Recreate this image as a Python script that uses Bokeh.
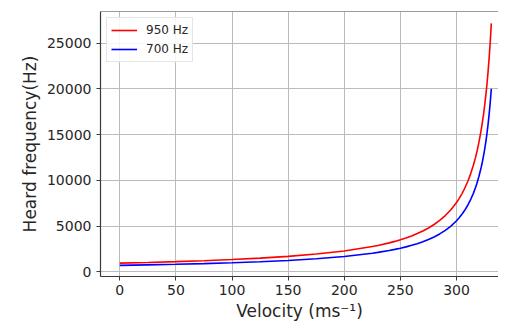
from bokeh.plotting import figure
from bokeh.models import Range1d, FixedTicker, Span, Legend, LegendItem
from bokeh.embed import file_html
from bokeh.resources import INLINE

# Velocity (m/s) and heard frequency (Hz)
velocity = [0, 25, 50, 75, 100, 125, 150, 175, 200, 225, 230, 240, 245, 250, 255, 260,
            265, 270, 275, 280, 285, 290, 295, 300, 302, 305, 307, 310, 312, 315, 317,
            318, 320, 322, 323, 324, 325, 326, 327, 328, 329, 330, 331]
heard_950 = [950, 1025, 1112, 1216, 1341, 1495, 1688, 1940, 2279, 2761, 2884, 3164, 3325,
             3504, 3703, 3926, 4178, 4464, 4792, 5172, 5618, 6148, 6789, 7578, 7948, 8575,
             9051, 9874, 10511, 11638, 12533, 13034, 14167, 15517, 16293, 17150, 18103,
             19168, 20366, 21723, 23275, 25065, 27154]
heard_700 = [700, 755, 820, 896, 988, 1101, 1244, 1429, 1679, 2035, 2125, 2331, 2450,
             2582, 2728, 2893, 3078, 3289, 3531, 3811, 4140, 4530, 5002, 5584, 5856, 6318,
             6669, 7276, 7745, 8575, 9235, 9604, 10439, 11433, 12005, 12637, 13339, 14124,
             15006, 16007, 17150, 18469, 20008]
series_labels = ["950 Hz", "700 Hz"]
x_ticks = [0, 50, 100, 150, 200, 250, 300]
y_ticks = [0, 5000, 10000, 15000, 20000, 25000]

FONT = "DejaVu Sans"
TXT = "#262626"
AX = "#3a3a3a"

p = figure(width=498, height=323, output_backend="svg", toolbar_location=None,
           x_range=Range1d(-17.2, 337.4), y_range=Range1d(-512, 28452),
           min_border_left=100, min_border_right=0, min_border_top=11, min_border_bottom=46)
p.background_fill_color = "white"
p.border_fill_color = "white"
p.outline_line_color = None

r1 = p.line(velocity, heard_950, line_color="#ff0000", line_width=1.6)
r2 = p.line(velocity, heard_700, line_color="#0000ff", line_width=1.6)

top = Span(location=28452, dimension="width", line_color=AX, line_width=1.2)
p.add_layout(top)

for ax in (p.xaxis[0], p.yaxis[0]):
    ax.axis_line_color = AX
    ax.axis_line_width = 1.2
    ax.major_tick_line_color = AX
    ax.major_tick_out = 4
    ax.major_tick_in = 0
    ax.minor_tick_line_color = None
    ax.major_label_text_font = FONT
    ax.major_label_text_font_size = "14px"
    ax.major_label_text_color = TXT
    ax.axis_label_text_font = FONT
    ax.axis_label_text_font_size = "17px"
    ax.axis_label_text_font_style = "normal"
    ax.axis_label_text_color = TXT

p.xaxis.ticker = FixedTicker(ticks=x_ticks)
p.yaxis.ticker = FixedTicker(ticks=y_ticks)
p.xaxis.axis_label = "Velocity (ms\u207b\u00b9)"
p.yaxis.axis_label = "Heard frequency(Hz)"
p.xaxis.major_label_standoff = 4
p.yaxis.major_label_standoff = 5
p.xaxis.axis_label_standoff = 3
p.yaxis.axis_label_standoff = 4

p.xgrid.ticker = FixedTicker(ticks=x_ticks)
p.ygrid.ticker = FixedTicker(ticks=y_ticks)
p.grid.grid_line_color = "#bcbcbc"
p.grid.grid_line_width = 1

legend = Legend(items=[LegendItem(label=series_labels[0], renderers=[r1]),
                       LegendItem(label=series_labels[1], renderers=[r2])],
                location="top_left")
legend.margin = 6
legend.padding = 4
legend.spacing = 3
legend.glyph_width = 26
legend.glyph_height = 16
legend.label_height = 16
legend.label_standoff = 9
legend.label_text_font = FONT
legend.label_text_font_size = "12px"
legend.label_text_color = TXT
legend.border_line_color = "#cccccc"
legend.border_line_width = 1
legend.background_fill_alpha = 0.85
p.add_layout(legend)

open("out.html", "w").write(file_html(p, INLINE))
